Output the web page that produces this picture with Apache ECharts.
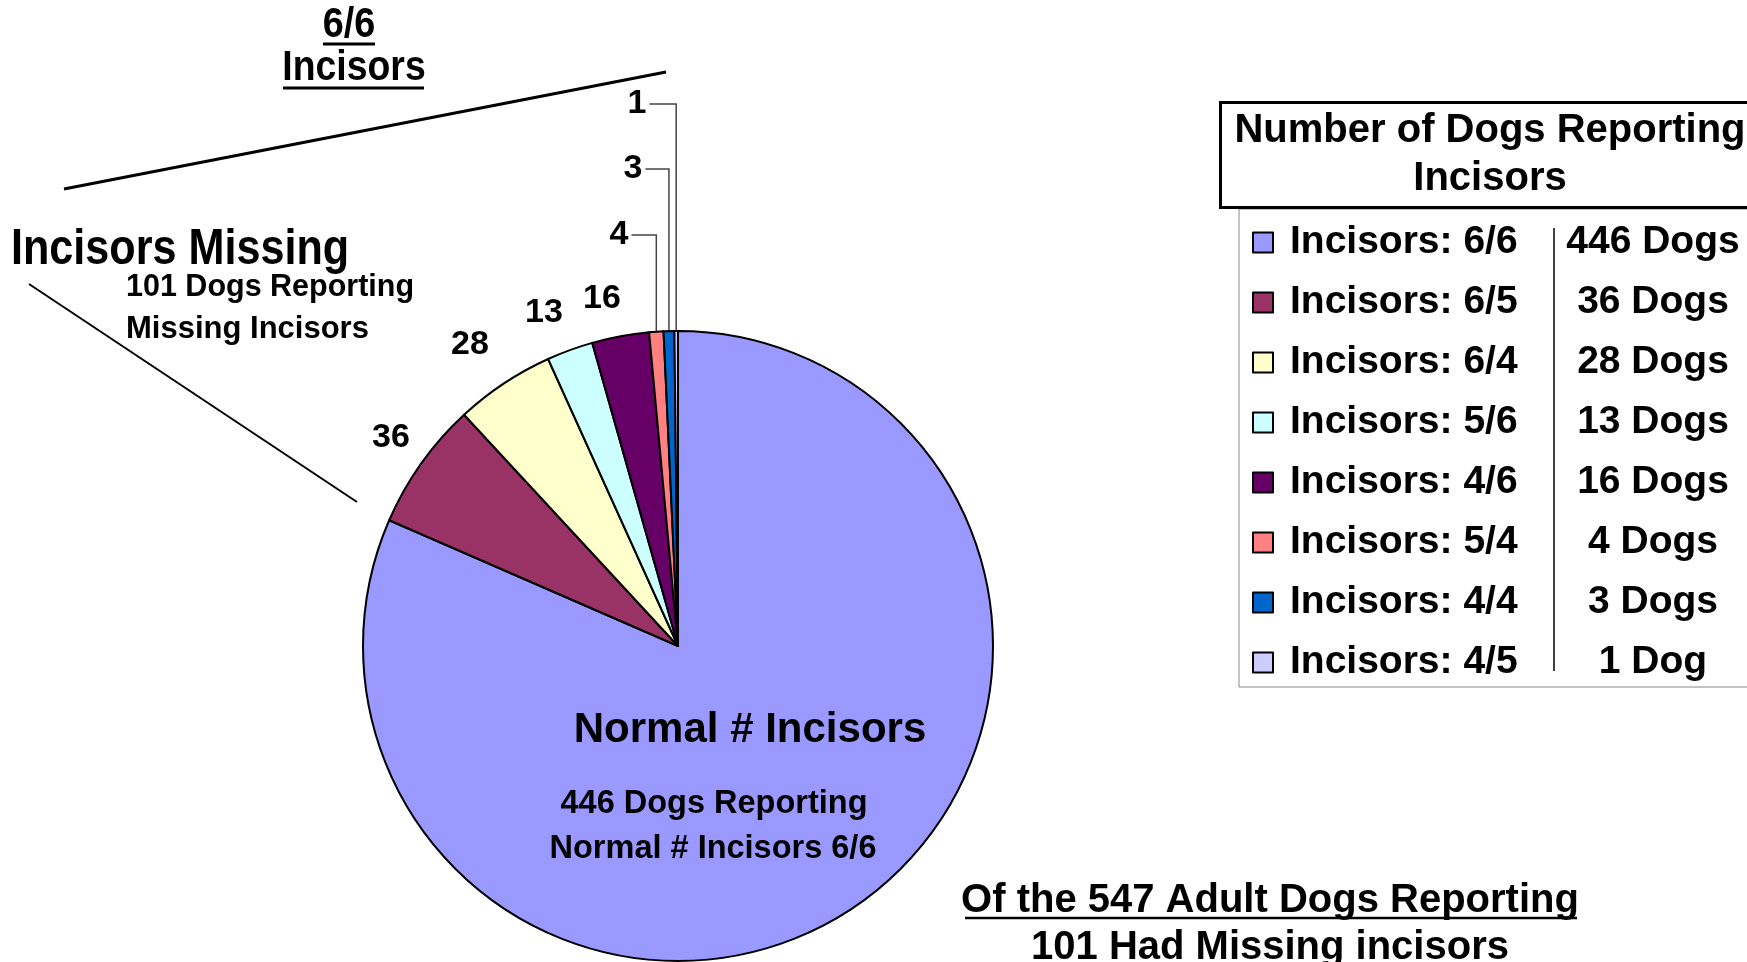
<!DOCTYPE html>
<html>
<head>
<meta charset="utf-8">
<script src="https://cdn.jsdelivr.net/npm/echarts@6/dist/echarts.min.js"></script>
<style>
  html, body { margin: 0; padding: 0; background: #fff; }
  #main { width: 1747px; height: 962px; }
</style>
</head>
<body>
<div id="main"></div>
<script>
// data
const groups = ['Incisors: 6/6', 'Incisors: 6/5', 'Incisors: 6/4', 'Incisors: 5/6',
                'Incisors: 4/6', 'Incisors: 5/4', 'Incisors: 4/4', 'Incisors: 4/5'];
const dogs = [446, 36, 28, 13, 16, 4, 3, 1];
const colors = ['#9999FF', '#993366', '#FFFFCC', '#CCFFFF', '#660066', '#FF8080', '#0066CC', '#CCCCFF'];

// where the slice numbers sit (label centres)
const labelPos = [null, [391, 438], [470, 345], [544, 313], [602, 299], [619, 235], [633, 169], [637, 104]];

const ARIAL = "'Liberation Sans', Arial, sans-serif";

let chart = echarts.init(document.getElementById('main'));

// text helper, sx squeezes the glyphs (the original used a condensed face)
function txt(text, x, y, font, align, sx) {
    return {
        type: 'text', x: x, y: y, z: 100,
        scaleX: sx || 1,
        style: { text: text, font: font, fill: '#000', textAlign: align || 'center', textVerticalAlign: 'middle' }
    };
}
function line(x1, y1, x2, y2, w, c) {
    return {
        type: 'line', z: 100,
        shape: { x1: x1, y1: y1, x2: x2, y2: y2 },
        style: { stroke: c || '#000', lineWidth: w }
    };
}

let option = {
    animation: false,
    title: {
        text: 'Number of Dogs Reporting\nIncisors',
        left: 1476,
        top: 102,
        textAlign: 'center',
        padding: [5, 14],
        borderColor: '#000',
        borderWidth: 3,
        backgroundColor: '#fff',
        textStyle: { fontFamily: ARIAL, fontSize: 40, fontWeight: 'bold', color: '#000', lineHeight: 48 },
        z: 10
    },
    legend: {
        orient: 'vertical',
        left: 1239,
        top: 209,
        padding: [14, 0, 5, 13],
        itemWidth: 20,
        itemHeight: 20,
        itemGap: 21,
        itemTextGap: 28,
        icon: 'rect',
        borderColor: '#888',
        borderWidth: 1,
        selectedMode: false,
        itemStyle: { borderColor: '#000', borderWidth: 2 },
        data: groups,
        formatter: name => {
            let n = dogs[groups.indexOf(name)];
            return `{a|${name}}{b|${n} ${n === 1 ? 'Dog' : 'Dogs'}}`;
        },
        textStyle: {
            rich: {
                a: { width: 254, padding: [0, 0, 0, 12], fontFamily: ARIAL, fontSize: 39, fontWeight: 'bold', color: '#000', lineHeight: 44 },
                b: { width: 218, align: 'center', fontFamily: ARIAL, fontSize: 39, fontWeight: 'bold', color: '#000', lineHeight: 44 }
            }
        }
    },
    series: [{
        type: 'pie',
        center: [678, 646],
        radius: 315,
        startAngle: 90,
        clockwise: true,
        avoidLabelOverlap: false,
        emphasis: { disabled: true },
        itemStyle: { borderColor: '#000', borderWidth: 2 },
        label: {
            show: true,
            position: 'outside',
            formatter: '{c}',
            fontFamily: ARIAL,
            fontSize: 34,
            fontWeight: 'bold',
            color: '#000'
        },
        labelLine: { show: false, length: 10, length2: 10, lineStyle: { color: '#444', width: 1.5 } },
        labelLayout: params => {
            let i = params.dataIndex, p = labelPos[i];
            if (!p) return {};
            let out = { x: p[0], y: p[1], align: 'center', verticalAlign: 'middle' };
            if (i >= 5 && params.labelLinePoints) {
                let s = params.labelLinePoints[0],
                    right = p[0] + params.labelRect.width / 2 + 3;
                out.labelLinePoints = [s, [s[0], p[1]], [right, p[1]]];
            }
            return out;
        },
        data: groups.map((g, i) => ({
            name: g,
            value: dogs[i],
            itemStyle: { color: colors[i] },
            label: { show: i > 0 },
            labelLine: { show: i >= 5 }
        }))
    }],
    graphic: [
        // top-left annotation
        txt('6/6', 349, 25, `bold 42px ${ARIAL}`, 'center', 0.9),
        line(323, 44, 375, 44, 3),
        txt('Incisors', 354, 68, `bold 42px ${ARIAL}`, 'center', 0.89),
        line(283, 88, 424, 88, 3),
        line(64, 189, 666, 72, 3),
        txt('Incisors Missing', 11, 250, `bold 50px ${ARIAL}`, 'left', 0.863),
        txt('101 Dogs Reporting', 126, 288, `bold 30.5px ${ARIAL}`, 'left'),
        txt('Missing Incisors', 126, 329, `bold 31px ${ARIAL}`, 'left'),
        line(29, 284, 357, 502, 2),
        // inside the big slice
        txt('Normal # Incisors', 750, 730, `bold 42px ${ARIAL}`),
        txt('446 Dogs Reporting', 714, 804, `bold 32.5px ${ARIAL}`),
        txt('Normal # Incisors 6/6', 713, 849, `bold 32.5px ${ARIAL}`),
        // bottom note
        txt('Of the 547 Adult Dogs Reporting', 1270, 901, `bold 40px ${ARIAL}`),
        line(965, 918, 1577, 918, 2.5),
        txt('101 Had Missing incisors', 1270, 948, `bold 40px ${ARIAL}`),
        // divider inside the legend
        line(1554, 228, 1554, 671, 1.5)
    ]
};
chart.setOption(option);
</script>
</body>
</html>
